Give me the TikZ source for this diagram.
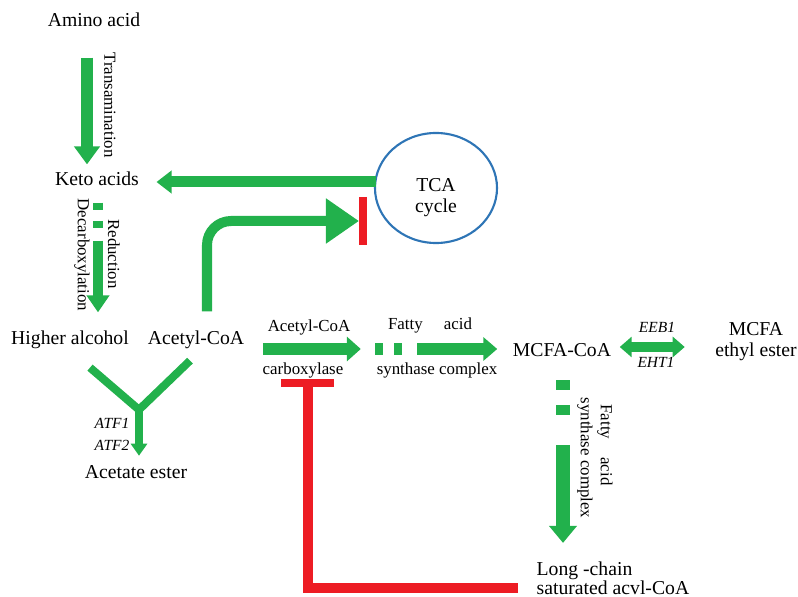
\documentclass[tikz,border=0pt]{standalone}
\usepackage{fontspec}
\setmainfont{Liberation Serif}
\usetikzlibrary{calc, arrows.meta, shapes.geometric}
\definecolor{pgreen}{RGB}{34,177,76}
\definecolor{pred}{RGB}{237,28,36}
\definecolor{pblue}{RGB}{46,117,182}
\tikzset{ t/.style = { font      = \fontsize{14}{15}\selectfont
                       , inner sep = 1pt
                       },
          lab/.style = { font      = \fontsize{12}{13}\selectfont
                         , inner sep = 1pt
                         },
          enz/.style = { font      = \fontsize{11}{12}\selectfont\itshape
                         , inner sep = 1pt
                         },
          cyc/.style = { ellipse
                         , draw          = pblue
                         , line width    = 1.5pt
                         , minimum width = 3.05cm
                         , minimum height = 2.75cm
                         , inner sep     = 0pt
                         },
          flow/.style = { draw       = pgreen
                          , line width = #1
                          },
          head/.style 2 args = { arrows = {-{Triangle[length=#1, width=#2]}} },
          stop/.style = { draw       = pred
                          , line width = #1
                          }
        }
\begin{document}
\begin{tikzpicture}[x=0.025cm, y=-0.025cm]
\useasboundingbox (0,0) rectangle (798,597);

% metabolites
\node[t] (amino)   at (94,20)   {Amino acid};
\node[t] (keto)    at (97,179)  {Keto acids};
\node[t] (higher)  at (70,340)  {Higher alcohol};
\node[t] (acoa)    at (196,340) {Acetyl-CoA};
\node[t] (acetate) at (136,472) {Acetate ester};
\node[cyc, label={[t, align=center, yshift=-0.25cm]center:TCA\\cycle}] (tca) at (436,188) {};
\node[t] (mcfa)    at (562,350) {MCFA-CoA};
\node[t, align=center] (ester) at (756,342) {MCFA\\ethyl ester};
\node[t, align=left, anchor=west, font=\fontsize{14}{13.5}\selectfont] (longc) at (535,578)
     {Long -chain\\saturated acvl-CoA};

% enzymes and steps
\node[lab, rotate=-90] (trans)  at (110,105) {Transamination};
\node[lab, rotate=-90] (decarb) at (82,255)  {Decarboxylation};
\node[lab, rotate=-90] (reduc)  at (114,254) {Reduction};
\node[lab] (carb1) at (309,327) {Acetyl-CoA};
\node[lab] (carb2) at (303,370) {carboxylase};
\node[lab] (fasa)  at (430,325) {Fatty\hspace{15pt}acid};
\node[lab] (fasb)  at (437,370) {synthase complex};
\node[enz] (eeb)   at (657,327) {EEB1};
\node[enz] (eht)   at (656,362) {EHT1};
\node[enz] (atf1)  at (112,423) {ATF1};
\node[enz] (atf2)  at (112,445) {ATF2};
\node[lab, rotate=-90] (vfa) at (605,445) {Fatty\hspace{13pt}acid};
\node[lab, rotate=-90] (vsc) at (585,458) {synthase complex};

% upper branch
\draw[flow=0.275cm, head={0.45cm}{0.625cm}] ($(amino.south)+(-7,29)$) -- ($(keto.north)+(-10,-6)$);
\draw[flow=0.275cm, head={0.375cm}{0.55cm}] ($(tca.west)+(2,-6)$) -- ($(keto.east)+(16,3)$);
\draw[flow=0.25cm, head={0.425cm}{0.55cm}, dash pattern=on 5pt off 8pt on 5pt off 9pt on 200pt]
     ($(keto.south)+(1,15)$) -- ($(keto.south |- higher.north)+(1,-17)$);

% acetate ester
\coordinate (fork) at ($(acetate.north)+(3,-54)$);
\draw[flow=0.2cm] ($(higher.south)+(20,17)$) -- (fork) -- ($(acoa.south)+(-6,10)$);
\draw[flow=0.2cm, head={0.3cm}{0.4cm}] (fork) -- ($(acetate.north)+(3,-8)$);

% towards TCA cycle
\coordinate (block) at ($(tca.west)+(-11,33)$);
\draw[flow=0.25cm, head={0.825cm}{1.075cm}, rounded corners=0.6cm, shorten >=2.8pt]
     ($(acoa.north)+(11,-18)$) |- (block);
\draw[stop=0.2cm] ($(block)+(0,-24)$) -- ($(block)+(0,24)$);

% fatty acid synthesis
\draw[flow=0.3cm, head={0.35cm}{0.6cm}] ($(acoa.east)+(17,9)$) -- ++(98,0);
\draw[flow=0.3cm, head={0.35cm}{0.575cm}, dash pattern=on 5.7pt off 7.8pt on 5.7pt off 10.7pt on 200pt]
     ($(mcfa.west)+(-136,-1)$) -- ($(mcfa.west)+(-14,-1)$);
\draw[flow=0.225cm, arrows={{Triangle[length=0.3cm, width=0.5cm]}-{Triangle[length=0.3cm, width=0.5cm]}}]
     ($(mcfa.east)+(7,-3)$) -- ++(65,0);
\draw[flow=0.35cm, head={0.425cm}{0.675cm}, dash pattern=on 7.1pt off 10.7pt on 7.1pt off 21.3pt on 300pt]
     ($(mcfa.south)+(1,22)$) -- ($(mcfa.south |- longc.north)+(1,-17)$);

% feedback inhibition
\coordinate (tbar) at ($(carb2.south)+(5,4)$);
\draw[stop=0.25cm] ($(longc.west)+(-17,10)$) -| (tbar);
\draw[stop=0.2cm] ($(tbar)+(-27,0)$) -- ($(tbar)+(26,0)$);
\end{tikzpicture}
\end{document}
